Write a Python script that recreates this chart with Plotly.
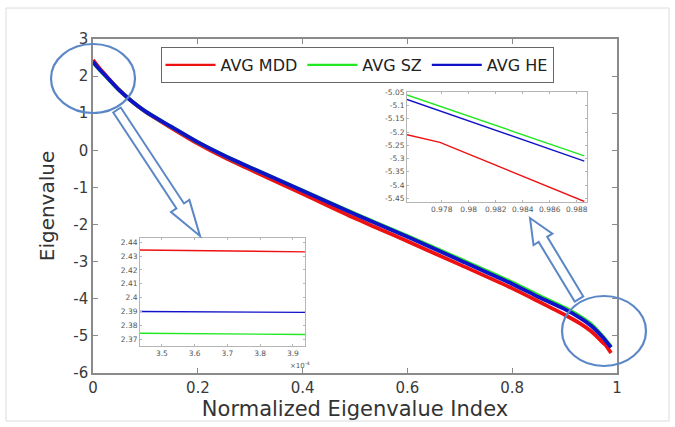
import plotly.graph_objects as go
import math

# ---------------- data ----------------
idx = [0, 0.01, 0.03, 0.05, 0.07, 0.1, 0.15, 0.2, 0.25, 0.3, 0.4, 0.5, 0.6, 0.7,
       0.8, 0.85, 0.9, 0.93, 0.95, 0.9754, 0.9779, 0.9886]
avg_mdd = [2.434, 2.25, 1.93, 1.63, 1.37, 1.04, 0.6, 0.18, -0.19, -0.52, -1.17, -1.83,
           -2.45, -3.08, -3.72, -4.07, -4.43, -4.67, -4.87, -5.21, -5.239, -5.462]
avg_sz = [2.374, 2.21, 1.91, 1.62, 1.37, 1.05, 0.63, 0.22, -0.14, -0.46, -1.08, -1.71,
          -2.31, -2.93, -3.56, -3.91, -4.24, -4.48, -4.68, -5.06, -5.103, -5.29]
avg_he = [2.39, 2.22, 1.92, 1.62, 1.37, 1.05, 0.63, 0.22, -0.14, -0.46, -1.09, -1.72,
          -2.33, -2.96, -3.6, -3.95, -4.28, -4.52, -4.72, -5.077, -5.12, -5.31]

# inset 1 (start of spectrum)
ins1_x = [3.433e-4, 3.937e-4]
ins1_mdd = [2.4344, 2.4331]
ins1_sz = [2.3742, 2.3733]
ins1_he = [2.3900, 2.3893]

# inset 2 (end of spectrum)
ins2_x = [0.97543, 0.97787, 0.98856]
ins2_mdd = [-5.21, -5.239, -5.462]
ins2_sz = [-5.06, -5.103, -5.29]
ins2_he = [-5.077, -5.12, -5.31]

series_names = ["AVG MDD", "AVG SZ", "AVG HE"]
colors = ["#ee1111", "#22e822", "#1111c8"]

x_tick_vals = [0, 0.2, 0.4, 0.6, 0.8, 1]
x_tick_text = ["0", "0.2", "0.4", "0.6", "0.8", "1"]
y_tick_vals = [3, 2, 1, 0, -1, -2, -3, -4, -5, -6]
y_tick_text = ["3", "2", "1", "0", "-1", "-2", "-3", "-4", "-5", "-6"]

ins1_x_vals = [3.5e-4, 3.6e-4, 3.7e-4, 3.8e-4, 3.9e-4]
ins1_x_text = ["3.5", "3.6", "3.7", "3.8", "3.9"]
ins1_y_vals = [2.37, 2.38, 2.39, 2.40, 2.41, 2.42, 2.43, 2.44]
ins1_y_text = ["2.37", "2.38", "2.39", "2.4", "2.41", "2.42", "2.43", "2.44"]

ins2_x_vals = [0.978, 0.980, 0.982, 0.984, 0.986, 0.988]
ins2_x_text = ["0.978", "0.98", "0.982", "0.984", "0.986", "0.988"]
ins2_y_vals = [-5.05, -5.1, -5.15, -5.2, -5.25, -5.3, -5.35, -5.4, -5.45]
ins2_y_text = ["-5.05", "-5.1", "-5.15", "-5.2", "-5.25", "-5.3", "-5.35", "-5.4", "-5.45"]

# ---------------- geometry ----------------
W, H = 675, 427
L, R, T, B = 93, 617, 39, 373   # main plot area in pixels


def px(x, y):
    return ((x - L) / (R - L), (B - y) / (B - T))


FONT = "DejaVu Sans"
fig = go.Figure()

main_series = [avg_mdd, avg_sz, avg_he]
i1 = [ins1_mdd, ins1_sz, ins1_he]
i2 = [ins2_mdd, ins2_sz, ins2_he]

for name, ys, c in zip(series_names, main_series, colors):
    fig.add_trace(go.Scatter(x=idx, y=ys, mode="lines", name=name,
                             line=dict(color=c, width=3.8, shape="spline", smoothing=0.8),
                             showlegend=False, legendgroup=name,
                             xaxis="x", yaxis="y"))
for name, ys, c in zip(series_names, i1, colors):
    fig.add_trace(go.Scatter(x=ins1_x, y=ys, mode="lines", name=name,
                             line=dict(color=c, width=1.4),
                             showlegend=False, legendgroup=name,
                             xaxis="x2", yaxis="y2"))
for name, ys, c in zip(series_names, i2, colors):
    fig.add_trace(go.Scatter(x=ins2_x, y=ys, mode="lines", name=name,
                             line=dict(color=c, width=1.4),
                             showlegend=False, legendgroup=name,
                             xaxis="x3", yaxis="y3"))
# legend entries (same series, no extra points)
for name, c in zip(series_names, colors):
    fig.add_trace(go.Scatter(x=[None], y=[None], mode="lines", name=name,
                             line=dict(color=c, width=2.4),
                             showlegend=True, legendgroup=name,
                             xaxis="x", yaxis="y"))

# inset domains
i1x0, i1y0 = px(140, 346)
i1x1, i1y1 = px(305, 238)
i2x0, i2y0 = px(407, 202)
i2x1, i2y1 = px(587, 92)

axis_main = dict(showline=True, linecolor="#8a8a8a", linewidth=1.5, mirror="ticks",
                 ticks="inside", ticklen=5, tickcolor="#8a8a8a", showgrid=False,
                 zeroline=False, tickfont=dict(family=FONT, size=15, color="#3a3a3a"))
axis_ins = dict(showline=True, linecolor="#b5b5b5", linewidth=1, mirror="ticks",
                ticks="inside", ticklen=2, tickcolor="#b5b5b5", showgrid=False,
                zeroline=False, tickfont=dict(family=FONT, size=7.5, color="#555555"))

fig.update_layout(
    width=W, height=H,
    margin=dict(l=L, r=W - R, t=T, b=H - B, autoexpand=False),
    paper_bgcolor="white", plot_bgcolor="white",
    font=dict(family=FONT, color="#333333"),
    xaxis=dict(axis_main, range=[0, 1], tickvals=x_tick_vals, ticktext=x_tick_text,
               domain=[0, 1], anchor="y",
               title=dict(text="Normalized Eigenvalue Index", standoff=6,
                          font=dict(family=FONT, size=21, color="#333333"))),
    yaxis=dict(axis_main, range=[-6, 3], tickvals=y_tick_vals, ticktext=y_tick_text,
               domain=[0, 1], anchor="x",
               title=dict(text="Eigenvalue", standoff=13,
                          font=dict(family=FONT, size=20, color="#333333"))),
    xaxis2=dict(axis_ins, range=[ins1_x[0], ins1_x[-1]], tickvals=ins1_x_vals,
                ticktext=ins1_x_text, domain=[i1x0, i1x1], anchor="y2"),
    yaxis2=dict(axis_ins, range=[2.365, 2.4431], tickvals=ins1_y_vals,
                ticktext=ins1_y_text, domain=[i1y0, i1y1], anchor="x2"),
    xaxis3=dict(axis_ins, range=[ins2_x[0], 0.98876], tickvals=ins2_x_vals,
                ticktext=ins2_x_text, domain=[i2x0, i2x1], anchor="y3"),
    yaxis3=dict(axis_ins, range=[-5.464, -5.049], tickvals=ins2_y_vals,
                ticktext=ins2_y_text, domain=[i2y0, i2y1], anchor="x3"),
    legend=dict(orientation="h", x=px(357, 0)[0], xanchor="center",
                y=px(0, 47)[1], yanchor="top",
                bgcolor="white", bordercolor="#666666", borderwidth=1,
                font=dict(family=FONT, size=16, color="#222222"),
                itemwidth=50, tracegroupgap=0),
)

shapes = []
# white backgrounds for insets
for ax in ("2", "3"):
    shapes.append(dict(type="rect", xref=f"x{ax} domain", yref=f"y{ax} domain",
                       x0=0, x1=1, y0=0, y1=1, fillcolor="white",
                       line=dict(width=0), layer="below"))

# outer light frame
fx0, fy0 = px(6, 421)
fx1, fy1 = px(669, 8)
shapes.append(dict(type="rect", xref="paper", yref="paper", x0=fx0, x1=fx1,
                   y0=fy0, y1=fy1, line=dict(color="#dcdcdc", width=1), layer="below"))

ACC = "#5b87c6"
for (ex0, ey0, ex1, ey1) in [(51, 44, 135, 113), (562, 296, 646, 366)]:
    a0, b0 = px(ex0, ey1)
    a1, b1 = px(ex1, ey0)
    shapes.append(dict(type="circle", xref="paper", yref="paper", x0=a0, x1=a1,
                       y0=b0, y1=b1, line=dict(color=ACC, width=2.2), layer="above"))


def block_arrow(start, tip, shw, hhw, hlen):
    sx, sy = start
    tx, ty = tip
    dx, dy = tx - sx, ty - sy
    ln = math.hypot(dx, dy)
    ux, uy = dx / ln, dy / ln
    nx, ny = -uy, ux
    bx, by = tx - ux * hlen, ty - uy * hlen
    pts = [(sx + nx * shw, sy + ny * shw), (bx + nx * shw, by + ny * shw),
           (bx + nx * hhw, by + ny * hhw), (tx, ty),
           (bx - nx * hhw, by - ny * hhw), (bx - nx * shw, by - ny * shw),
           (sx - nx * shw, sy - ny * shw)]
    p = [px(a, b) for a, b in pts]
    return "M " + " L ".join(f"{a:.5f},{b:.5f}" for a, b in p) + " Z"


shapes.append(dict(type="path", xref="paper", yref="paper",
                   path=block_arrow((117, 110), (200, 236), 4.5, 11, 36),
                   line=dict(color=ACC, width=2), fillcolor="rgba(255,255,255,0)",
                   layer="above"))
shapes.append(dict(type="path", xref="paper", yref="paper",
                   path=block_arrow((579, 299), (530, 218), 5, 11, 25),
                   line=dict(color=ACC, width=2), fillcolor="rgba(255,255,255,0)",
                   layer="above"))
fig.update_layout(shapes=shapes)

ax_, ay_ = px(300, 358)
fig.add_annotation(x=ax_, y=ay_, xref="paper", yref="paper", text="×10<sup>-4</sup>",
                   showarrow=False, yanchor="top",
                   font=dict(family=FONT, size=7, color="#555555"))

fig.write_html("out.html", config={"displayModeBar": False},
               post_script="document.body.style.margin='0';document.body.style.overflow='hidden';")
